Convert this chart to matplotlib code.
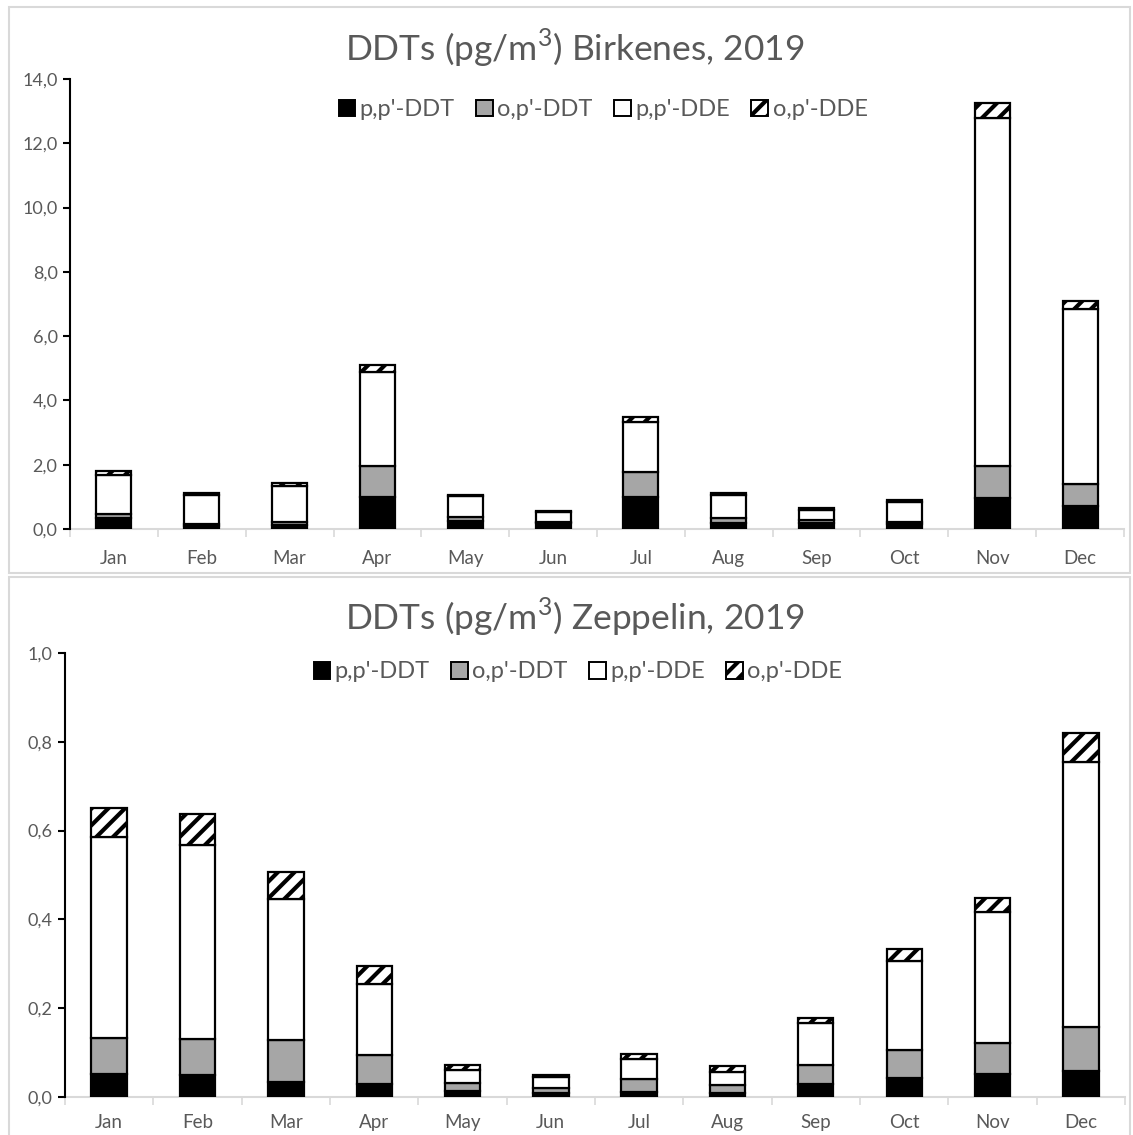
import numpy as np
import matplotlib
matplotlib.use("Agg")
import matplotlib.pyplot as plt
from matplotlib.patches import Patch, Rectangle
from matplotlib.ticker import FuncFormatter, FixedLocator

plt.rcParams['font.family'] = ['Lato', 'DejaVu Sans']
plt.rcParams['hatch.linewidth'] = 3.0

months = ['Jan', 'Feb', 'Mar', 'Apr', 'May', 'Jun',
          'Jul', 'Aug', 'Sep', 'Oct', 'Nov', 'Dec']
compounds = ["p,p'-DDT", "o,p'-DDT", "p,p'-DDE", "o,p'-DDE"]

# Birkenes, pg/m3
birk_ppDDT = [0.33, 0.08, 0.12, 1.00, 0.25, 0.20, 1.00, 0.20, 0.18, 0.15, 0.95, 0.73]
birk_opDDT = [0.15, 0.08, 0.10, 0.95, 0.12, 0.03, 0.78, 0.15, 0.10, 0.08, 1.00, 0.68]
birk_ppDDE = [1.20, 0.90, 1.12, 2.95, 0.65, 0.30, 1.56, 0.72, 0.31, 0.62, 10.85, 5.45]
birk_opDDE = [0.12, 0.06, 0.08, 0.20, 0.05, 0.04, 0.15, 0.04, 0.05, 0.05, 0.46, 0.23]

# Zeppelin, pg/m3
zep_ppDDT = [0.052, 0.050, 0.034, 0.029, 0.013, 0.008, 0.012, 0.010, 0.029, 0.042, 0.052, 0.059]
zep_opDDT = [0.082, 0.081, 0.094, 0.066, 0.019, 0.012, 0.028, 0.018, 0.042, 0.064, 0.069, 0.099]
zep_ppDDE = [0.451, 0.436, 0.318, 0.160, 0.029, 0.024, 0.045, 0.028, 0.095, 0.200, 0.295, 0.597]
zep_opDDE = [0.065, 0.071, 0.061, 0.040, 0.010, 0.005, 0.012, 0.013, 0.013, 0.027, 0.033, 0.065]

W, H = 1133, 1135
grey_txt = '#595959'
styles = [dict(facecolor='black', hatch=None),
          dict(facecolor='#A6A6A6', hatch=None),
          dict(facecolor='white', hatch=None),
          dict(facecolor='white', hatch='//')]


def px_axes(fig, left, top, right, bottom):
    return fig.add_axes([left / W, 1 - bottom / H, (right - left) / W, (bottom - top) / H])


def stacked(ax, series, ymax, ystep, label_pad):
    x = np.arange(len(months))
    base = np.zeros(len(months))
    for vals, st in zip(series, styles):
        ax.bar(x, vals, 0.4, bottom=base, facecolor=st['facecolor'],
               hatch=st['hatch'], edgecolor='black', linewidth=1.6, zorder=3)
        base = base + np.array(vals)
    ax.set_xlim(-0.5, len(months) - 0.5)
    ax.set_ylim(0, ymax)
    ax.set_yticks(np.arange(0, ymax + ystep / 2, ystep))
    ax.yaxis.set_major_formatter(FuncFormatter(lambda v, p: f'{v:.1f}'.replace('.', ',')))
    ax.set_xticks(x)
    ax.set_xticklabels(months)
    ax.xaxis.set_minor_locator(FixedLocator(np.arange(-0.5, len(months), 1.0)))
    ax.tick_params(axis='x', which='major', length=0, pad=label_pad, labelsize=13.5,
                   labelcolor=grey_txt)
    ax.tick_params(axis='x', which='minor', length=6, width=1.2, color='#D9D9D9')
    ax.tick_params(axis='y', length=5, width=1.5, color='black', labelsize=13,
                   labelcolor=grey_txt, pad=4)
    for s in ['top', 'right']:
        ax.spines[s].set_visible(False)
    ax.spines['left'].set_linewidth(1.5)
    ax.spines['bottom'].set_color('#D9D9D9')
    ax.spines['bottom'].set_linewidth(1.5)
    ax.spines['bottom'].set_zorder(2)


def legend(fig, cx, cy):
    handles = [Patch(facecolor=st['facecolor'], hatch=st['hatch'], edgecolor='black',
                     linewidth=1.4) for st in styles]
    fig.legend(handles, compounds, loc='center', ncol=4, frameon=False,
               bbox_to_anchor=(cx / W, 1 - cy / H), fontsize=17,
               handlelength=0.7, handleheight=0.7, handletextpad=0.2,
               columnspacing=0.9, labelcolor=grey_txt)


fig = plt.figure(figsize=(W / 100, H / 100), dpi=100)

# panel frames
for top, bot in [(7, 573), (577, 1140)]:
    fig.add_artist(Rectangle((9 / W, 1 - bot / H), 1121 / W, (bot - top) / H,
                             transform=fig.transFigure, fill=False,
                             edgecolor='#D9D9D9', linewidth=1.5))

ax1 = px_axes(fig, 70, 79, 1124, 529)
stacked(ax1, [birk_ppDDT, birk_opDDT, birk_ppDDE, birk_opDDE], 14, 2, 15)
fig.text(575 / W, 1 - 48 / H, r'DDTs (pg/m$^{\mathregular{3}}$) Birkenes, 2019', ha='center',
         va='center', fontsize=25.5, color=grey_txt)
legend(fig, 603, 110)

ax2 = px_axes(fig, 65, 653, 1125, 1097)
stacked(ax2, [zep_ppDDT, zep_opDDT, zep_ppDDE, zep_opDDE], 1.0, 0.2, 12)
fig.text(575 / W, 1 - 617 / H, r'DDTs (pg/m$^{\mathregular{3}}$) Zeppelin, 2019', ha='center',
         va='center', fontsize=25.5, color=grey_txt)
legend(fig, 578, 672)

fig.savefig('out.png', dpi=100)
